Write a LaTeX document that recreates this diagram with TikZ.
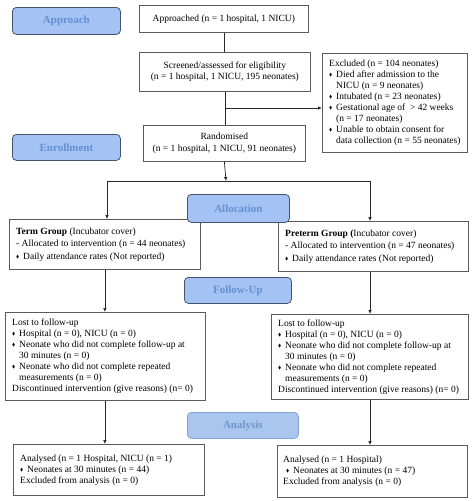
\documentclass[tikz,border=0pt]{standalone}
\usepackage{amssymb}
\usepackage{graphicx}
\usepackage{fontspec}
\setmainfont{Liberation Serif}
\usetikzlibrary{arrows.meta}
\definecolor{lblfill}{RGB}{164,194,244}
\definecolor{lbldraw}{RGB}{68,84,106}
\definecolor{lbltext}{RGB}{100,145,212}
\definecolor{anfill}{RGB}{170,198,238}
\definecolor{andraw}{RGB}{135,165,212}
\definecolor{antext}{RGB}{112,150,206}
\definecolor{boxdraw}{RGB}{90,90,90}
\newcommand{\dm}{\makebox[7pt][l]{\raisebox{0.2ex}{\scalebox{0.5}{$\blacklozenge$}}}}
\newcommand{\mc}[1]{\multicolumn{2}{@{}l@{}}{#1}}
\newenvironment{lines}{\begin{tabular}{@{}l@{}l@{}}}{\end{tabular}}
\tikzset{
  box/.style={draw=boxdraw, line width=0.7pt, fill=white, inner sep=0pt, anchor=north west},
  ctext/.style={align=center, font=\fontsize{9.5}{11.5}\selectfont},
  ltext/.style={anchor=west, inner sep=0pt, font=\fontsize{9.5}{11}\selectfont},
  lbl/.style={draw=lbldraw, fill=lblfill, line width=0.8pt, rounded corners=4pt, anchor=north west,
              inner sep=0pt, text=lbltext, font=\fontsize{11}{13}\selectfont\bfseries},
  anl/.style={lbl, draw=andraw, fill=anfill, text=antext},
  conn/.style={draw=black!85, line width=0.7pt},
  arr/.style={conn, -{Latex[length=4pt,width=3.5pt]}}
}
\begin{document}
\begin{tikzpicture}[x=1pt,y=-1pt]
\useasboundingbox (0,0) rectangle (474,501);
% top column
\node[box, ctext, minimum width=169pt, minimum height=27pt] (appr) at (139,5) {Approached (n = 1 hospital, 1 NICU)};
\node[box, ctext, minimum width=171pt, minimum height=39pt] (scr) at (139,52) {Screened/assessed for eligibility\\(n = 1 hospital, 1 NICU, 195 neonates)};
\node[box, minimum width=145pt, minimum height=99pt] (excl) at (322,53) {};
\node[ltext, xshift=7pt] (exclT) at (excl.west) {\begin{lines}
\mc{Excluded (n = 104 neonates)}\\
\dm & Died after admission to the\\
 & NICU (n = 9 neonates)\\
\dm & Intubated (n = 23 neonates)\\
\dm & Gestational age of \ > 42 weeks\\
 & (n = 17 neonates)\\
\dm & Unable to obtain consent for\\
 & data collection (n = 55 neonates)
\end{lines}};
\node[box, ctext, minimum width=162pt, minimum height=36pt] (rand) at (143,125) {Randomised\\(n = 1 hospital, 1 NICU, 91 neonates)};
% groups
\node[box, minimum width=191pt, minimum height=50pt] (term) at (9,219) {};
\node[ltext, xshift=7pt, font=\fontsize{9.5}{12.5}\selectfont] (termT) at (term.west) {\begin{lines}
\mc{\textbf{Term Group} (Incubator cover)}\\
\mc{- Allocated to intervention (n = 44 neonates)}\\
\dm & Daily attendance rates (Not reported)
\end{lines}};
\node[box, minimum width=190pt, minimum height=50pt] (pre) at (278,221) {};
\node[ltext, xshift=7pt, font=\fontsize{9.5}{12.5}\selectfont] (preT) at (pre.west) {\begin{lines}
\mc{\textbf{Preterm Group (}Incubator cover)}\\
\mc{- Allocated to intervention (n = 47 neonates)}\\
\dm & Daily attendance rates (Not reported)
\end{lines}};
% follow-up
\node[box, minimum width=200pt, minimum height=88pt] (lostL) at (5,312) {};
\node[ltext, xshift=7pt] (lostLT) at (lostL.west) {\begin{lines}
\mc{Lost to follow-up}\\
\dm & Hospital (n = 0), NICU (n = 0)\\
\dm & Neonate who did not complete follow-up at\\
 & 30 minutes (n = 0)\\
\dm & Neonate who did not complete repeated\\
 & measurements (n = 0)\\
\mc{Discontinued intervention (give reasons) (n= 0)}
\end{lines}};
\node[box, minimum width=197pt, minimum height=85pt] (lostR) at (271,314) {};
\node[ltext, xshift=7pt] (lostRT) at (lostR.west) {\begin{lines}
\mc{Lost to follow-up}\\
\dm & Hospital (n = 0), NICU (n = 0)\\
\dm & Neonate who did not complete follow-up at\\
 & 30 minutes (n = 0)\\
\dm & Neonate who did not complete repeated\\
 & measurements (n = 0)\\
\mc{Discontinued intervention (give reasons) (n= 0)}
\end{lines}};
% analysis
\node[box, minimum width=191pt, minimum height=51pt] (anaL) at (13,444) {};
\node[ltext, xshift=7pt] (anaLT) at (anaL.west) {\begin{lines}
\mc{Analysed (n = 1 Hospital, NICU (n = 1)}\\
\dm & Neonates at 30 minutes (n = 44)\\
\mc{Excluded from analysis (n = 0)}
\end{lines}};
\node[box, minimum width=190pt, minimum height=52pt] (anaR) at (277,445) {};
\node[ltext, xshift=6pt] (anaRT) at (anaR.west) {\begin{lines}
\mc{Analysed (n = 1 Hospital)}\\
\hspace{3pt}\dm & Neonates at 30 minutes (n = 47)\\
\mc{Excluded from analysis (n = 0)}
\end{lines}};
% connectors
\coordinate (j1) at (224,108);
\coordinate (split) at (226,181);
\coordinate (tl) at (107,181);
\coordinate (tr) at (370,181);
\draw[conn] (appr.south) -- (appr.south |- scr.north);
\draw[conn] (scr.south) -- (scr.south |- rand.north);
\draw[arr] (scr.south |- j1) -- (j1 -| excl.west);
\draw[arr] (rand.south) -- (split);
\draw[conn] (tl) -- (tr);
\draw[arr] (tl) -- (tl |- term.north);
\draw[arr] (tr) -- (tr |- pre.north);
\draw[arr] (term.south) -- (term.south |- lostL.north);
\draw[arr] (tr |- pre.south) -- (tr |- lostR.north);
\draw[arr] (term.south |- lostL.south) -- (term.south |- anaL.north);
\draw[arr] (tr |- lostR.south) -- (tr |- anaR.north);
% stage labels
\node[lbl, minimum width=108pt, minimum height=27pt] (lapp) at (12,7) {Approach};
\node[lbl, minimum width=108pt, minimum height=26pt] (lenr) at (12,134) {Enrollment};
\node[lbl, minimum width=102pt, minimum height=28pt] (lall) at (187,194) {Allocation};
\node[lbl, minimum width=107pt, minimum height=26pt] (lfol) at (184,277) {Follow-Up};
\node[anl, minimum width=111pt, minimum height=26pt] (lana) at (187,412) {Analysis};
\end{tikzpicture}
\end{document}
